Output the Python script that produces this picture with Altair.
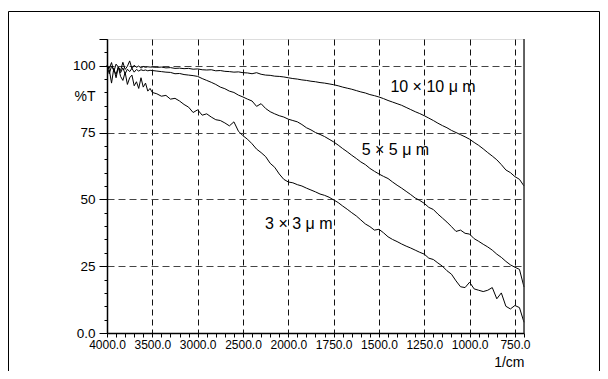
import json
import altair as alt
import pandas as pd

FONT = "Liberation Sans"

# wavenumber sampling (1/cm)
wavenumber = (list(range(4000, 3500, -25))
              + list(range(3500, 2000, -50))
              + list(range(2000, 699, -25)))

t_10 = [100, 99.0, 101.2, 97.8, 100.6, 99.5, 98.2, 101.3, 98.6, 99.8,
        101.8, 98.9, 100.2, 99.4, 99.9, 99.1, 99.7, 99.4, 99.6, 99.5,
        99.5, 99.4, 99.5, 99.2, 99.3, 99.0, 99.1, 98.9, 99.0, 98.7,
        98.8, 98.5, 98.4, 98.5, 98.1, 98.2, 97.9, 97.8, 97.6, 97.7,
        97.4, 97.3, 97.0, 97.4, 96.8, 96.5, 96.4, 96.1, 96.0, 95.8,
        95.5, 95.2, 95.0, 94.7, 94.5, 94.2, 94.0, 93.7, 93.5, 93.2,
        92.9, 92.5, 92.0, 91.6, 91.2, 90.7, 90.2, 89.8, 89.2, 88.8,
        88.3, 87.7, 87.0, 86.4, 85.8, 85.2, 84.4, 83.6, 82.8, 82.1,
        81.3, 80.4, 79.5, 78.5, 77.6, 76.8, 75.8, 75.0, 74.2, 73.4,
        72.5, 71.3, 70.2, 68.9, 67.5, 66.2, 64.8, 63.0, 61.0, 60.0,
        58.5, 57.5, 55.0]

t_5 = [100, 97.0, 99.8, 98.5, 96.8, 99.6, 97.4, 99.2, 97.0, 98.7,
       97.8, 99.0, 97.6, 98.6, 98.0, 98.5, 98.2, 98.4, 98.1, 98.3,
       98.2, 98.0, 97.8, 97.6, 97.5, 97.0, 97.1, 96.7, 96.5, 96.3,
       96.0, 95.2, 94.5, 93.8, 93.0, 92.0, 91.4, 90.5, 90.0, 89.0,
       88.3, 87.5, 86.8, 84.8, 85.8, 84.0, 82.8, 82.0, 81.3, 80.8,
       80.0, 79.5, 79.0, 78.0, 76.8, 76.0, 75.0, 74.3, 73.5, 72.5,
       71.5, 70.3, 69.0, 67.8, 66.5, 65.3, 64.0, 63.0, 61.6, 60.5,
       59.5, 58.6, 57.8, 56.5, 55.3, 54.2, 53.0, 51.8, 50.5, 49.6,
       48.5, 47.0, 46.2, 44.5, 43.0, 41.5, 39.8, 38.0, 38.5, 37.3,
       37.0, 35.3, 34.3, 33.2, 32.2, 31.0, 29.5, 28.3, 26.8, 25.5,
       24.6, 23.8, 17.2]

t_3 = [100, 98.5, 93.5, 99.0, 95.5, 99.5, 96.0, 94.5, 97.5, 93.0,
       95.5, 96.5, 92.5, 94.0, 91.5, 95.5, 92.0, 93.5, 90.5, 91.5,
       90.0, 89.5, 88.6, 88.9, 87.5, 87.8, 86.8, 85.5, 84.5, 82.5,
       83.5, 81.5, 82.0, 80.8, 79.8, 79.5, 78.6, 77.5, 79.0, 75.5,
       73.8, 72.5, 70.8, 68.8, 67.5, 66.0, 63.5, 62.0, 59.5, 57.5,
       56.5, 56.2, 55.5, 55.0, 54.2, 53.5, 52.8, 52.0, 51.5, 50.8,
       49.8, 48.8, 47.5, 46.3, 45.0, 43.8, 42.3, 40.8, 39.8, 38.5,
       38.8, 37.5, 36.0, 35.0, 34.2, 33.3, 32.5, 31.8, 31.0, 30.2,
       29.5, 28.0, 27.5, 26.2, 25.0, 23.3, 22.0, 19.5, 17.3, 17.0,
       19.0, 16.5, 16.0, 15.5, 16.0, 17.0, 12.8, 15.0, 10.0, 9.0,
       10.3, 9.5, 4.0]

series_names = ["10x10", "5x5", "3x3"]

label_text = ["10 × 10 μ m", "5 × 5 μ m", "3 × 3 μ m"]
label_wn = [1437, 1595, 2256]
label_t = [92.0, 68.5, 40.6]

x_major = [4000, 3500, 3000, 2500, 2000, 1750, 1500, 1250, 1000, 750]
x_ticks = list(range(4000, 2000, -100)) + list(range(2000, 699, -50))
y_ticks = list(range(0, 111, 5))

W, H = 417, 294

rows = []
for name, vals in zip(series_names, [t_10, t_5, t_3]):
    for w, v in zip(wavenumber, vals):
        rows.append({"wn": w, "t": v, "series": name})
df = pd.DataFrame(rows)
df_labels = pd.DataFrame({"wn": label_wn, "t": label_t, "text": label_text})
df_edge = pd.DataFrame({"wn": [700]})

major_js = json.dumps(x_major)

x_scale = alt.Scale(domain=[4000, 2000, 700], range=[0, 181.3, W], zero=False, nice=False)
y_scale = alt.Scale(domain=[0, 110], zero=False, nice=False)

x_axis = alt.Axis(
    values=x_ticks,
    labelExpr=f"indexof({major_js}, datum.value) >= 0 ? format(datum.value, '.1f') : ''",
    tickSize=4, tickColor="black", tickWidth=1,
    grid=True,
    gridOpacity={"condition": {"test": f"indexof({major_js}, datum.value) >= 0", "value": 1}, "value": 0},
    gridDash=[6, 4], gridColor="#111", gridWidth=1,
    domainColor="black", domainWidth=1.5,
    labelFont=FONT, labelFontSize=12, labelColor="black", labelPadding=2,
    labelFlush=False, labelOverlap=False,
    title="1/cm", titleFont=FONT, titleFontSize=14, titleFontWeight="normal",
    titleColor="black", titleX=W, titleY=29, titleAlign="right", titleBaseline="middle",
)

y_axis = alt.Axis(
    values=y_ticks,
    labelExpr="datum.value === 0 ? '0.0' : ((datum.value % 25 === 0 && datum.value <= 100) ? toString(datum.value) : '')",
    tickSize={"condition": {"test": "datum.value % 25 === 0 || datum.value === 110", "value": 8}, "value": 3},
    tickColor="black", tickWidth=1,
    grid=True,
    gridOpacity={"condition": {"test": "datum.value % 25 === 0 && datum.value > 0 && datum.value <= 100", "value": 1}, "value": 0},
    gridDash=[7, 4], gridColor="#444", gridWidth=1,
    domainColor="black", domainWidth=1.5,
    labelFont=FONT, labelFontSize=13.5, labelColor="black", labelPadding=4,
    labelOverlap=False,
    title="%T", titleFont=FONT, titleFontSize=14, titleFontWeight="normal",
    titleColor="black", titleAngle=0, titleX=-12, titleY=57,
    titleAlign="right", titleBaseline="middle",
)

X = alt.X("wn:Q", scale=x_scale, axis=x_axis)
Y = alt.Y("t:Q", scale=y_scale, axis=y_axis)

border = alt.Chart(pd.DataFrame({"a": [0]})).mark_rect(
    fillOpacity=0, stroke="black", strokeWidth=1
).encode(
    x=alt.value(-98.5), x2=alt.value(492.5), y=alt.value(-27.5), y2=alt.value(345)
)

lines = alt.Chart(df).mark_line(color="black", strokeWidth=1).encode(
    x=X, y=Y, detail="series:N"
)

edge = alt.Chart(df_edge).mark_rule(color="#333", strokeWidth=1.5).encode(x=X)

labels = alt.Chart(df_labels).mark_text(
    align="left", baseline="middle", font=FONT, fontSize=16, color="black"
).encode(x=X, y=Y, text="text:N")

chart = alt.layer(border, lines, edge, labels).properties(
    width=W, height=H,
    autosize=alt.AutoSizeParams(type="none"),
    padding={"left": 99, "top": 31, "right": 76, "bottom": 38},
    background="white",
).configure_view(stroke=None).configure(font=FONT)

chart.save("out.html", embed_options={"renderer": "svg", "actions": False})
